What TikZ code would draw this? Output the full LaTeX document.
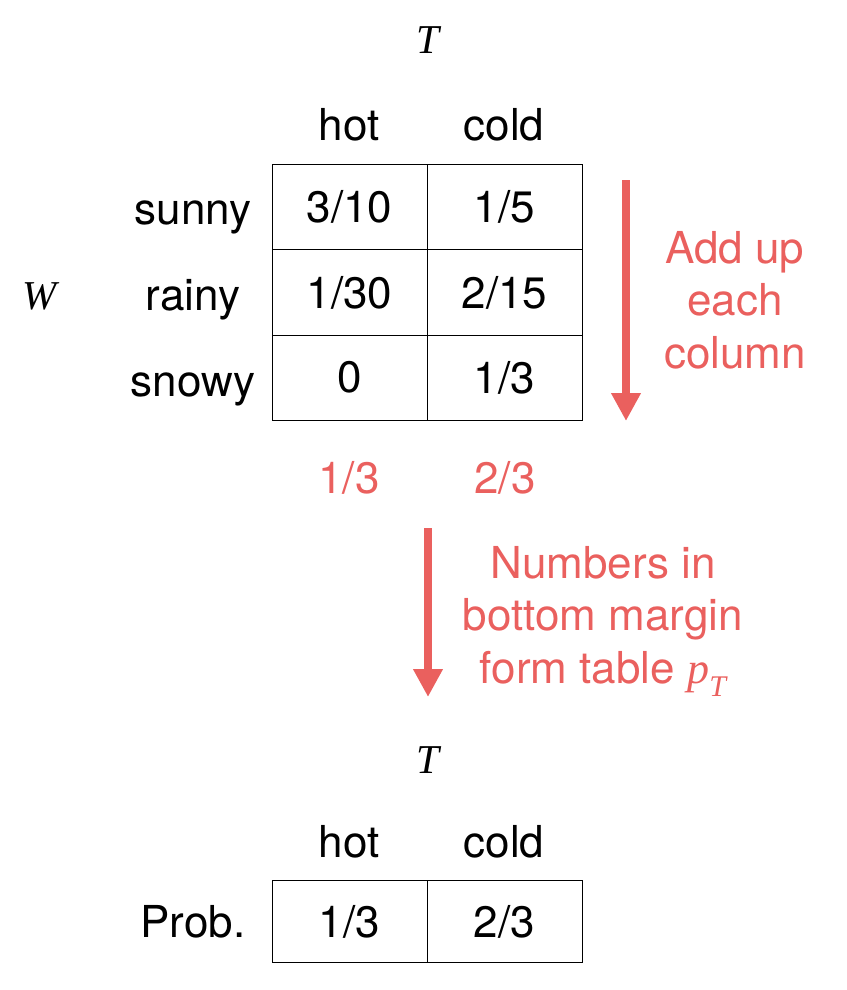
\documentclass[tikz,border=0pt]{standalone}
\usepackage{fontspec}
\setmainfont{TeX Gyre Heros}
\newfontfamily\serifvar{Liberation Serif}
\usetikzlibrary{arrows.meta}
\definecolor{accent}{RGB}{234,96,94}
\begin{document}
\begin{tikzpicture}[x=1pt,y=-1pt,
  txt/.style={font=\fontsize{44}{52}\selectfont, anchor=base, inner sep=0pt},
  var/.style={font=\serifvar\itshape\fontsize{41}{48}\selectfont, anchor=base, inner sep=0pt},
  note/.style={font=\fontsize{44}{52.5}\selectfont, text=accent, align=center, anchor=base, inner sep=0pt},
  cell/.style={draw, line width=0.9pt, minimum width=155pt, minimum height=85.3pt, inner sep=0pt, anchor=north west, font=\fontsize{44}{52}\selectfont},
  bigarrow/.style={draw=accent, line width=8pt, -{Triangle[width=28pt,length=28pt]}}
]
\useasboundingbox (0,0) rectangle (846,990);
% top table
\node[var] (T1) at (428,53) {T};
\node[var] (W) at (40,309) {W};
\node[txt] (hot1) at (349,140) {hot};
\node[txt] (cold1) at (504,140) {cold};
\node[txt] (sunny) at (193,224) {sunny};
\node[txt] (rainy) at (193,310) {rainy};
\node[txt] (snowy) at (193,396) {snowy};
\node[cell] (c11) at (271.5,164) {3/10};
\node[cell] (c12) at (426.5,164) {1/5};
\node[cell] (c21) at (271.5,249.3) {1/30};
\node[cell] (c22) at (426.5,249.3) {2/15};
\node[cell] (c31) at (271.5,334.6) {0};
\node[cell] (c32) at (426.5,334.6) {1/3};
% margins
\node[txt, text=accent] (m1) at (349,493) {1/3};
\node[txt, text=accent] (m2) at (505,493) {2/3};
% arrow 1
\coordinate (a1s) at (626,180);
\coordinate (a1e) at (626,421);
\draw[bigarrow] (a1s) -- (a1e);
\node[note] (n1) at (735,368) {Add up\\each\\column};
% arrow 2
\coordinate (a2s) at (428,528);
\coordinate (a2e) at (428,697);
\draw[bigarrow] (a2s) -- (a2e);
\node[note] (n2) at (603,683) {Numbers in\\bottom margin\\form table {\serifvar\itshape p\raisebox{-0.3em}{\fontsize{30}{32}\selectfont T}}};
% bottom table
\node[var] (T2) at (428,773) {T};
\node[txt] (hot2) at (349,857) {hot};
\node[txt] (cold2) at (504,857) {cold};
\node[txt] (prob) at (193,937) {Prob.};
\node[cell, minimum height=82pt] (b1) at (271.5,880) {1/3};
\node[cell, minimum height=82pt] (b2) at (426.5,880) {2/3};
\end{tikzpicture}
\end{document}
